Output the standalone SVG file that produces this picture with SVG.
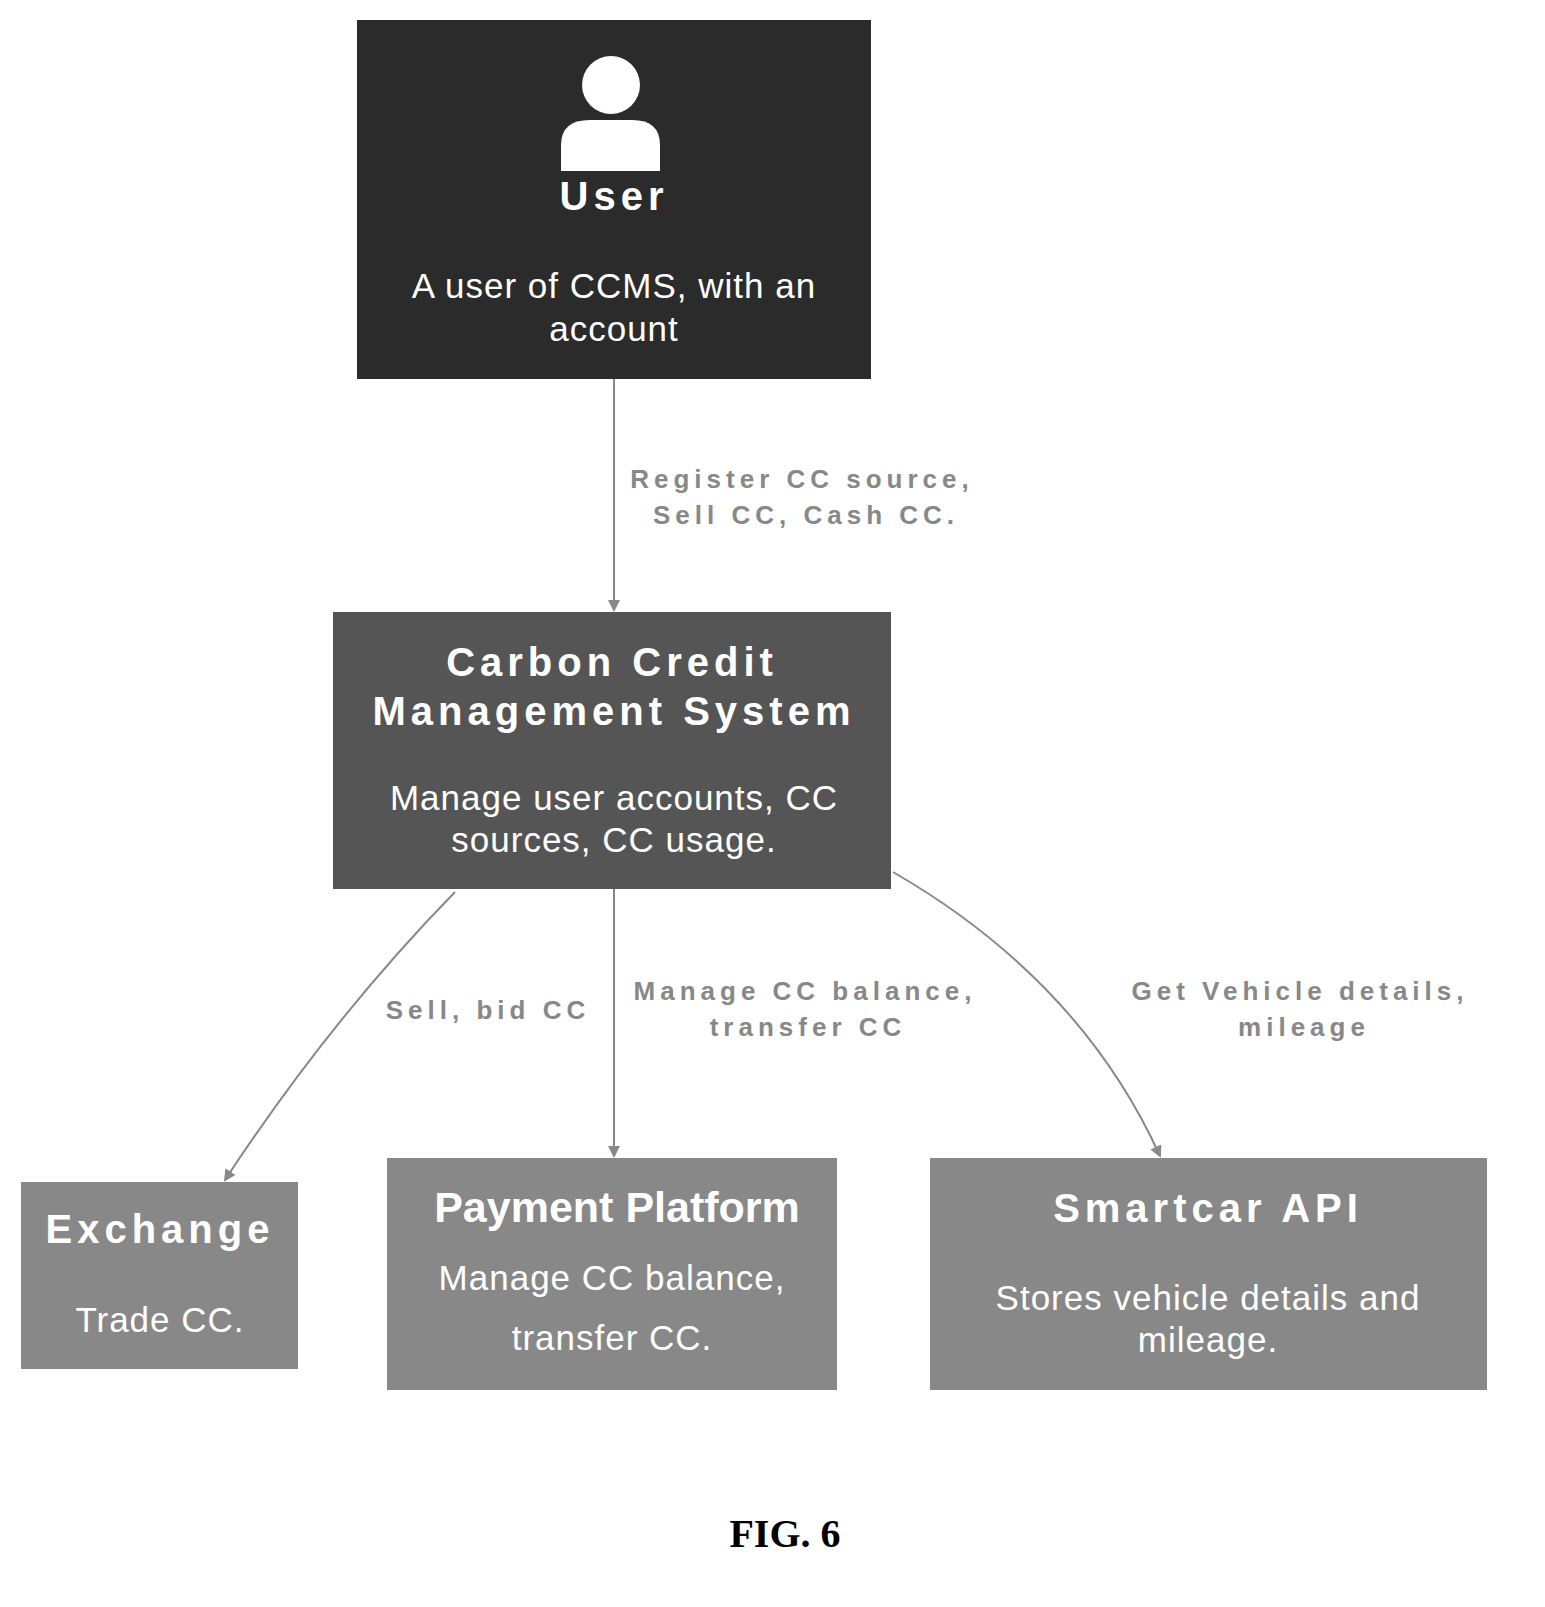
<svg xmlns="http://www.w3.org/2000/svg" width="1545" height="1607" viewBox="0 0 1545 1607">
<style>
.t{font-family:"Liberation Sans",Arial,sans-serif;fill:#fff;text-anchor:middle}
.h{font-weight:bold;font-size:40px;letter-spacing:5px}
.d{font-size:35px;letter-spacing:1px}
.e{fill:none;stroke:#888;stroke-width:2}
.l{font-family:"Liberation Sans",Arial,sans-serif;font-weight:bold;font-size:26px;letter-spacing:5px;fill:#888;text-anchor:middle}
</style>
<defs><marker id="a" markerWidth="12" markerHeight="12" refX="10" refY="6" orient="auto" markerUnits="userSpaceOnUse"><path d="M0,0 L12,6 L0,12 z" fill="#888"/></marker></defs>
<rect width="1545" height="1607" fill="#fff"/>
<g id="edges">
<path class="e" d="M614,379 L614,610" marker-end="url(#a)"/>
<path class="e" d="M455,892 Q330,1020 225,1180" marker-end="url(#a)"/>
<path class="e" d="M614,889 L614,1156" marker-end="url(#a)"/>
<path class="e" d="M893,872 Q1080,980 1160,1156" marker-end="url(#a)"/>
<text class="l" x="802" y="488">Register CC source,</text>
<text class="l" x="806" y="524">Sell CC, Cash CC.</text>
<text class="l" x="488" y="1019">Sell, bid CC</text>
<text class="l" x="805" y="1000">Manage CC balance,</text>
<text class="l" x="808" y="1036">transfer CC</text>
<text class="l" x="1300" y="1000">Get Vehicle details,</text>
<text class="l" x="1304" y="1036">mileage</text>
</g>
<g id="user">
<rect x="357" y="20" width="514" height="359" fill="#2b2b2b"/>
<circle cx="611" cy="85" r="29" fill="#fff"/>
<path d="M561,171 L561,145 Q561,120 590,120 L632,120 Q660,120 660,145 L660,171 Z" fill="#fff"/>
<text class="t h" x="614" y="210">User</text>
<text class="t d" x="614" y="298">A user of CCMS, with an</text>
<text class="t d" x="614" y="341">account</text>
</g>
<g id="ccms">
<rect x="333" y="612" width="558" height="277" fill="#555"/>
<text class="t h" x="612" y="676">Carbon Credit</text>
<text class="t h" x="614" y="725">Management System</text>
<text class="t d" x="614" y="810">Manage user accounts, CC</text>
<text class="t d" x="614" y="852">sources, CC usage.</text>
</g>
<g id="exchange">
<rect x="21" y="1182" width="277" height="187" fill="#888"/>
<text class="t h" x="160" y="1243">Exchange</text>
<text class="t d" x="160" y="1332">Trade CC.</text>
</g>
<g id="payment">
<rect x="387" y="1158" width="450" height="232" fill="#888"/>
<text class="t h" x="617" y="1222" style="letter-spacing:0;font-size:43px">Payment Platform</text>
<text class="t d" x="612" y="1290">Manage CC balance,</text>
<text class="t d" x="612" y="1350">transfer CC.</text>
</g>
<g id="smartcar">
<rect x="930" y="1158" width="557" height="232" fill="#888"/>
<text class="t h" x="1208" y="1222">Smartcar API</text>
<text class="t d" x="1208" y="1310">Stores vehicle details and</text>
<text class="t d" x="1208" y="1352">mileage.</text>
</g>
<text x="785" y="1547" style="font-family:'Liberation Serif',serif;font-weight:bold;font-size:40px;text-anchor:middle">FIG. 6</text>
</svg>
